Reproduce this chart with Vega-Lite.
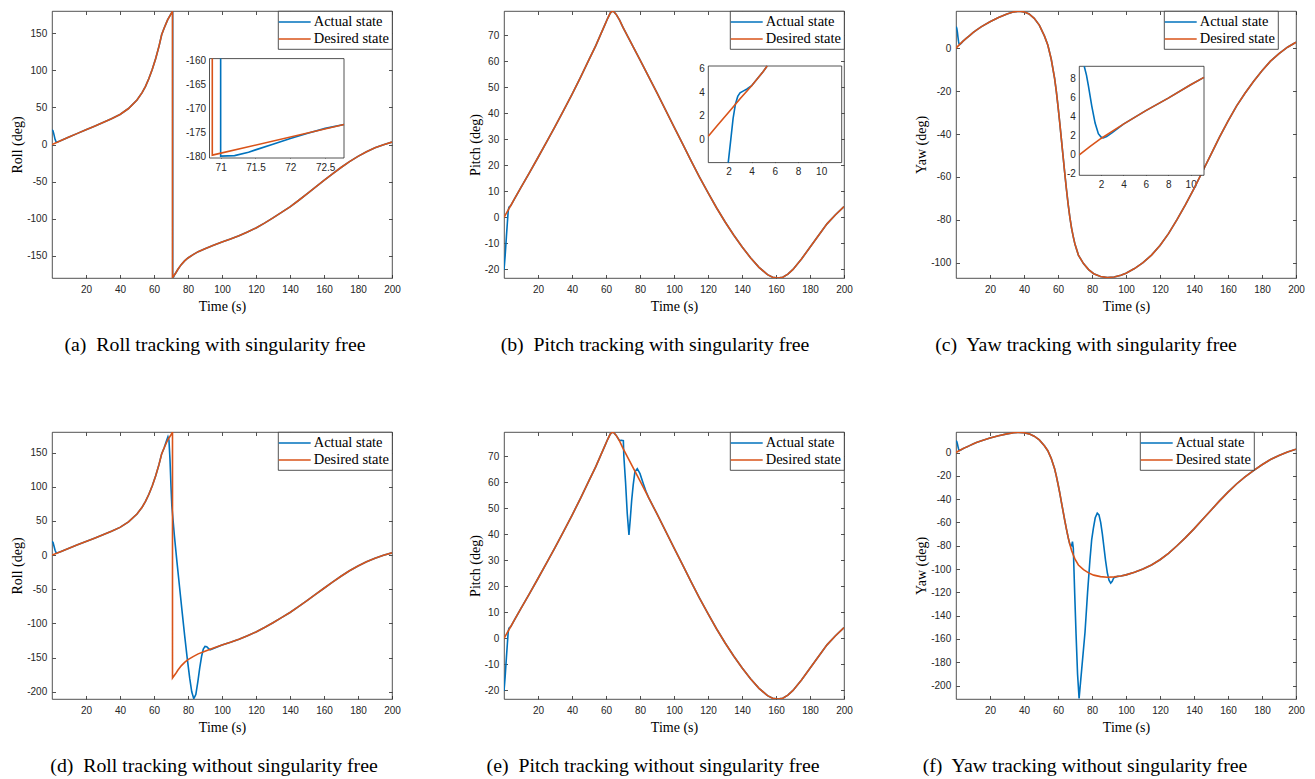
{
  "$schema": "https://vega.github.io/schema/vega-lite/v6.json",
  "background": "white",
  "padding": {"left": 10, "top": 10, "right": 5, "bottom": 2},
  "config": {
    "view": {"stroke": "#262626", "strokeWidth": 0.8},
    "range": {"category": ["#0072BD", "#D95319"]},
    "axis": {"grid": false, "domain": false, "tickColor": "#262626", "tickSize": -3.5, "tickWidth": 0.8, "labelFont": "Liberation Sans", "labelFontSize": 10, "labelColor": "#262626", "labelFlush": false, "labelOverlap": false, "titleFont": "Liberation Serif", "titleFontSize": 14, "titleFontWeight": "normal", "titleColor": "black", "zindex": 1},
    "axisX": {"labelPadding": 9.5, "titlePadding": 5},
    "axisY": {"labelPadding": 8.8, "titlePadding": 2},
    "legend": {"orient": "top-right", "offset": 0, "strokeColor": "#262626", "strokeWidth": 0.8, "fillColor": "white", "padding": 3, "labelFont": "Liberation Serif", "labelFontSize": 14.5, "labelColor": "black", "symbolSize": 196, "symbolStrokeWidth": 1.6, "symbolOffset": 5.7, "labelOffset": 11, "rowPadding": 2},
    "title": {"orient": "bottom", "font": "Liberation Serif", "fontSize": 19.8, "fontWeight": "normal", "color": "black", "offset": 22, "anchor": "middle"}
  },
  "datasets": {
    "main": [
      {"g":"a","s":"Actual state","t":0,"v":20},{"g":"a","s":"Actual state","t":0.6,"v":18.5},{"g":"a","s":"Actual state","t":1.2,"v":13},{"g":"a","s":"Actual state","t":1.8,"v":7},{"g":"a","s":"Actual state","t":2.4,"v":3.6},{"g":"a","s":"Actual state","t":3,"v":3.2},{"g":"a","s":"Actual state","t":5,"v":5},{"g":"a","s":"Actual state","t":10,"v":10},{"g":"a","s":"Actual state","t":15,"v":15},{"g":"a","s":"Actual state","t":20,"v":19.8},{"g":"a","s":"Actual state","t":25,"v":24.6},{"g":"a","s":"Actual state","t":30,"v":29.6},{"g":"a","s":"Actual state","t":35,"v":34.8},{"g":"a","s":"Actual state","t":40,"v":40.5},{"g":"a","s":"Actual state","t":45,"v":48.5},{"g":"a","s":"Actual state","t":50,"v":60},{"g":"a","s":"Actual state","t":53,"v":70},{"g":"a","s":"Actual state","t":55,"v":78.5},{"g":"a","s":"Actual state","t":57,"v":89},{"g":"a","s":"Actual state","t":59,"v":101.5},{"g":"a","s":"Actual state","t":61,"v":116},{"g":"a","s":"Actual state","t":63,"v":133},{"g":"a","s":"Actual state","t":64.5,"v":148},{"g":"a","s":"Actual state","t":66,"v":157},{"g":"a","s":"Actual state","t":68,"v":168},{"g":"a","s":"Actual state","t":70,"v":176},{"g":"a","s":"Actual state","t":71,"v":180},{"g":"a","s":"Actual state","t":71,"v":-179.9},{"g":"a","s":"Actual state","t":71.5,"v":-178.6},{"g":"a","s":"Actual state","t":72,"v":-176.2},{"g":"a","s":"Actual state","t":72.77,"v":-173.3},{"g":"a","s":"Actual state","t":74,"v":-168.5},{"g":"a","s":"Actual state","t":76,"v":-162},{"g":"a","s":"Actual state","t":78,"v":-157},{"g":"a","s":"Actual state","t":80,"v":-153},{"g":"a","s":"Actual state","t":83,"v":-148.5},{"g":"a","s":"Actual state","t":86,"v":-144.5},{"g":"a","s":"Actual state","t":90,"v":-140.5},{"g":"a","s":"Actual state","t":95,"v":-136},{"g":"a","s":"Actual state","t":100,"v":-131.5},{"g":"a","s":"Actual state","t":105,"v":-127.5},{"g":"a","s":"Actual state","t":110,"v":-123},{"g":"a","s":"Actual state","t":115,"v":-118},{"g":"a","s":"Actual state","t":120,"v":-112.5},{"g":"a","s":"Actual state","t":125,"v":-106},{"g":"a","s":"Actual state","t":130,"v":-99},{"g":"a","s":"Actual state","t":135,"v":-91.5},{"g":"a","s":"Actual state","t":140,"v":-84},{"g":"a","s":"Actual state","t":145,"v":-75.5},{"g":"a","s":"Actual state","t":150,"v":-66.5},{"g":"a","s":"Actual state","t":155,"v":-57.5},{"g":"a","s":"Actual state","t":160,"v":-48.5},{"g":"a","s":"Actual state","t":165,"v":-39.5},{"g":"a","s":"Actual state","t":170,"v":-31},{"g":"a","s":"Actual state","t":175,"v":-23},{"g":"a","s":"Actual state","t":180,"v":-16},{"g":"a","s":"Actual state","t":185,"v":-9.8},{"g":"a","s":"Actual state","t":190,"v":-4.5},{"g":"a","s":"Actual state","t":195,"v":-0.3},{"g":"a","s":"Actual state","t":200,"v":3.3},

      {"g":"d","s":"Actual state","t":0,"v":20},{"g":"d","s":"Actual state","t":0.6,"v":18.5},{"g":"d","s":"Actual state","t":1.2,"v":13},{"g":"d","s":"Actual state","t":1.8,"v":7},{"g":"d","s":"Actual state","t":2.4,"v":3.6},{"g":"d","s":"Actual state","t":3,"v":3.2},{"g":"d","s":"Actual state","t":5,"v":5},{"g":"d","s":"Actual state","t":10,"v":10},{"g":"d","s":"Actual state","t":15,"v":15},{"g":"d","s":"Actual state","t":20,"v":19.8},{"g":"d","s":"Actual state","t":25,"v":24.6},{"g":"d","s":"Actual state","t":30,"v":29.6},{"g":"d","s":"Actual state","t":35,"v":34.8},{"g":"d","s":"Actual state","t":40,"v":40.5},{"g":"d","s":"Actual state","t":45,"v":48.5},{"g":"d","s":"Actual state","t":50,"v":60},{"g":"d","s":"Actual state","t":53,"v":70},{"g":"d","s":"Actual state","t":55,"v":78.5},{"g":"d","s":"Actual state","t":57,"v":89},{"g":"d","s":"Actual state","t":59,"v":101.5},{"g":"d","s":"Actual state","t":61,"v":116},{"g":"d","s":"Actual state","t":63,"v":133},{"g":"d","s":"Actual state","t":64.5,"v":148},{"g":"d","s":"Actual state","t":66,"v":157},{"g":"d","s":"Actual state","t":67.3,"v":167},{"g":"d","s":"Actual state","t":68.2,"v":173},{"g":"d","s":"Actual state","t":68.8,"v":168},{"g":"d","s":"Actual state","t":69.4,"v":140},{"g":"d","s":"Actual state","t":70,"v":100},{"g":"d","s":"Actual state","t":70.5,"v":72},{"g":"d","s":"Actual state","t":72,"v":28},{"g":"d","s":"Actual state","t":73.5,"v":-10},{"g":"d","s":"Actual state","t":75,"v":-46},{"g":"d","s":"Actual state","t":76.5,"v":-82},{"g":"d","s":"Actual state","t":78,"v":-117},{"g":"d","s":"Actual state","t":79.5,"v":-150},{"g":"d","s":"Actual state","t":81,"v":-180},{"g":"d","s":"Actual state","t":82.2,"v":-200},{"g":"d","s":"Actual state","t":83.4,"v":-210},{"g":"d","s":"Actual state","t":84.6,"v":-204},{"g":"d","s":"Actual state","t":85.8,"v":-185},{"g":"d","s":"Actual state","t":86.9,"v":-165},{"g":"d","s":"Actual state","t":88,"v":-148},{"g":"d","s":"Actual state","t":89,"v":-137.5},{"g":"d","s":"Actual state","t":90,"v":-133.5},{"g":"d","s":"Actual state","t":91,"v":-134},{"g":"d","s":"Actual state","t":92,"v":-136.5},{"g":"d","s":"Actual state","t":93,"v":-138.5},{"g":"d","s":"Actual state","t":95,"v":-136.5},{"g":"d","s":"Actual state","t":100,"v":-131.5},{"g":"d","s":"Actual state","t":105,"v":-127.5},{"g":"d","s":"Actual state","t":110,"v":-123},{"g":"d","s":"Actual state","t":115,"v":-118},{"g":"d","s":"Actual state","t":120,"v":-112.5},{"g":"d","s":"Actual state","t":125,"v":-106},{"g":"d","s":"Actual state","t":130,"v":-99},{"g":"d","s":"Actual state","t":135,"v":-91.5},{"g":"d","s":"Actual state","t":140,"v":-84},{"g":"d","s":"Actual state","t":145,"v":-75.5},{"g":"d","s":"Actual state","t":150,"v":-66.5},{"g":"d","s":"Actual state","t":155,"v":-57.5},{"g":"d","s":"Actual state","t":160,"v":-48.5},{"g":"d","s":"Actual state","t":165,"v":-39.5},{"g":"d","s":"Actual state","t":170,"v":-31},{"g":"d","s":"Actual state","t":175,"v":-23},{"g":"d","s":"Actual state","t":180,"v":-16},{"g":"d","s":"Actual state","t":185,"v":-9.8},{"g":"d","s":"Actual state","t":190,"v":-4.5},{"g":"d","s":"Actual state","t":195,"v":-0.3},{"g":"d","s":"Actual state","t":200,"v":3.3},

      {"g":"R","s":"Desired state","t":0,"v":0},{"g":"R","s":"Desired state","t":5,"v":5},{"g":"R","s":"Desired state","t":10,"v":10},{"g":"R","s":"Desired state","t":15,"v":15},{"g":"R","s":"Desired state","t":20,"v":19.8},{"g":"R","s":"Desired state","t":25,"v":24.6},{"g":"R","s":"Desired state","t":30,"v":29.6},{"g":"R","s":"Desired state","t":35,"v":34.8},{"g":"R","s":"Desired state","t":40,"v":40.5},{"g":"R","s":"Desired state","t":45,"v":48.5},{"g":"R","s":"Desired state","t":50,"v":60},{"g":"R","s":"Desired state","t":53,"v":70},{"g":"R","s":"Desired state","t":55,"v":78.5},{"g":"R","s":"Desired state","t":57,"v":89},{"g":"R","s":"Desired state","t":59,"v":101.5},{"g":"R","s":"Desired state","t":61,"v":116},{"g":"R","s":"Desired state","t":63,"v":133},{"g":"R","s":"Desired state","t":64.5,"v":148},{"g":"R","s":"Desired state","t":66,"v":157},{"g":"R","s":"Desired state","t":68,"v":168},{"g":"R","s":"Desired state","t":70,"v":176},{"g":"R","s":"Desired state","t":70.88,"v":179.7},{"g":"R","s":"Desired state","t":70.88,"v":-179.7},{"g":"R","s":"Desired state","t":72.77,"v":-173.3},{"g":"R","s":"Desired state","t":74,"v":-168.5},{"g":"R","s":"Desired state","t":76,"v":-162},{"g":"R","s":"Desired state","t":78,"v":-157},{"g":"R","s":"Desired state","t":80,"v":-153},{"g":"R","s":"Desired state","t":83,"v":-148.5},{"g":"R","s":"Desired state","t":86,"v":-144.5},{"g":"R","s":"Desired state","t":90,"v":-140.5},{"g":"R","s":"Desired state","t":95,"v":-136},{"g":"R","s":"Desired state","t":100,"v":-131.5},{"g":"R","s":"Desired state","t":105,"v":-127.5},{"g":"R","s":"Desired state","t":110,"v":-123},{"g":"R","s":"Desired state","t":115,"v":-118},{"g":"R","s":"Desired state","t":120,"v":-112.5},{"g":"R","s":"Desired state","t":125,"v":-106},{"g":"R","s":"Desired state","t":130,"v":-99},{"g":"R","s":"Desired state","t":135,"v":-91.5},{"g":"R","s":"Desired state","t":140,"v":-84},{"g":"R","s":"Desired state","t":145,"v":-75.5},{"g":"R","s":"Desired state","t":150,"v":-66.5},{"g":"R","s":"Desired state","t":155,"v":-57.5},{"g":"R","s":"Desired state","t":160,"v":-48.5},{"g":"R","s":"Desired state","t":165,"v":-39.5},{"g":"R","s":"Desired state","t":170,"v":-31},{"g":"R","s":"Desired state","t":175,"v":-23},{"g":"R","s":"Desired state","t":180,"v":-16},{"g":"R","s":"Desired state","t":185,"v":-9.8},{"g":"R","s":"Desired state","t":190,"v":-4.5},{"g":"R","s":"Desired state","t":195,"v":-0.3},{"g":"R","s":"Desired state","t":200,"v":3.3},

      {"g":"b","s":"Actual state","t":0,"v":-20.2},{"g":"b","s":"Actual state","t":0.7,"v":-14.5},{"g":"b","s":"Actual state","t":1.4,"v":-7.5},{"g":"b","s":"Actual state","t":2,"v":-1.9},{"g":"b","s":"Actual state","t":2.2,"v":0},{"g":"b","s":"Actual state","t":2.4,"v":1.8},{"g":"b","s":"Actual state","t":2.6,"v":3},{"g":"b","s":"Actual state","t":2.8,"v":3.65},{"g":"b","s":"Actual state","t":3,"v":3.95},{"g":"b","s":"Actual state","t":3.6,"v":4.28},{"g":"b","s":"Actual state","t":4,"v":4.55},{"g":"b","s":"Actual state","t":6,"v":6.9},{"g":"b","s":"Actual state","t":10,"v":11.5},{"g":"b","s":"Actual state","t":15,"v":17.2},{"g":"b","s":"Actual state","t":20,"v":23},{"g":"b","s":"Actual state","t":25,"v":28.9},{"g":"b","s":"Actual state","t":30,"v":34.9},{"g":"b","s":"Actual state","t":35,"v":41},{"g":"b","s":"Actual state","t":40,"v":47.3},{"g":"b","s":"Actual state","t":45,"v":53.8},{"g":"b","s":"Actual state","t":50,"v":60.6},{"g":"b","s":"Actual state","t":54,"v":66},{"g":"b","s":"Actual state","t":57,"v":70.5},{"g":"b","s":"Actual state","t":59,"v":73.5},{"g":"b","s":"Actual state","t":61,"v":76.5},{"g":"b","s":"Actual state","t":62.5,"v":78.5},{"g":"b","s":"Actual state","t":63.5,"v":79.2},{"g":"b","s":"Actual state","t":64.5,"v":79.1},{"g":"b","s":"Actual state","t":66,"v":78},{"g":"b","s":"Actual state","t":68,"v":75.8},{"g":"b","s":"Actual state","t":70,"v":73},{"g":"b","s":"Actual state","t":73,"v":69.3},{"g":"b","s":"Actual state","t":76,"v":65.5},{"g":"b","s":"Actual state","t":80,"v":60.5},{"g":"b","s":"Actual state","t":85,"v":54.2},{"g":"b","s":"Actual state","t":90,"v":47.8},{"g":"b","s":"Actual state","t":95,"v":41.3},{"g":"b","s":"Actual state","t":100,"v":34.8},{"g":"b","s":"Actual state","t":105,"v":28.3},{"g":"b","s":"Actual state","t":110,"v":21.8},{"g":"b","s":"Actual state","t":115,"v":15.5},{"g":"b","s":"Actual state","t":120,"v":9.5},{"g":"b","s":"Actual state","t":125,"v":3.7},{"g":"b","s":"Actual state","t":130,"v":-1.7},{"g":"b","s":"Actual state","t":135,"v":-6.7},{"g":"b","s":"Actual state","t":140,"v":-11.3},{"g":"b","s":"Actual state","t":145,"v":-15.5},{"g":"b","s":"Actual state","t":150,"v":-19.2},{"g":"b","s":"Actual state","t":155,"v":-22},{"g":"b","s":"Actual state","t":158,"v":-23},{"g":"b","s":"Actual state","t":161,"v":-23.3},{"g":"b","s":"Actual state","t":164,"v":-23},{"g":"b","s":"Actual state","t":167,"v":-21.8},{"g":"b","s":"Actual state","t":170,"v":-20},{"g":"b","s":"Actual state","t":175,"v":-16},{"g":"b","s":"Actual state","t":180,"v":-11.5},{"g":"b","s":"Actual state","t":185,"v":-7},{"g":"b","s":"Actual state","t":190,"v":-2.5},{"g":"b","s":"Actual state","t":195,"v":1},{"g":"b","s":"Actual state","t":200,"v":4.1},

      {"g":"e","s":"Actual state","t":0,"v":-20.2},{"g":"e","s":"Actual state","t":0.7,"v":-14.5},{"g":"e","s":"Actual state","t":1.4,"v":-7.5},{"g":"e","s":"Actual state","t":2,"v":-1.9},{"g":"e","s":"Actual state","t":2.2,"v":0},{"g":"e","s":"Actual state","t":2.4,"v":1.8},{"g":"e","s":"Actual state","t":2.6,"v":3},{"g":"e","s":"Actual state","t":2.8,"v":3.65},{"g":"e","s":"Actual state","t":3,"v":3.95},{"g":"e","s":"Actual state","t":3.6,"v":4.28},{"g":"e","s":"Actual state","t":4,"v":4.55},{"g":"e","s":"Actual state","t":6,"v":6.9},{"g":"e","s":"Actual state","t":10,"v":11.5},{"g":"e","s":"Actual state","t":15,"v":17.2},{"g":"e","s":"Actual state","t":20,"v":23},{"g":"e","s":"Actual state","t":25,"v":28.9},{"g":"e","s":"Actual state","t":30,"v":34.9},{"g":"e","s":"Actual state","t":35,"v":41},{"g":"e","s":"Actual state","t":40,"v":47.3},{"g":"e","s":"Actual state","t":45,"v":53.8},{"g":"e","s":"Actual state","t":50,"v":60.6},{"g":"e","s":"Actual state","t":54,"v":66},{"g":"e","s":"Actual state","t":57,"v":70.5},{"g":"e","s":"Actual state","t":59,"v":73.5},{"g":"e","s":"Actual state","t":61,"v":76.5},{"g":"e","s":"Actual state","t":62.5,"v":78.5},{"g":"e","s":"Actual state","t":63.5,"v":79.2},{"g":"e","s":"Actual state","t":64.5,"v":79.1},{"g":"e","s":"Actual state","t":66,"v":78},{"g":"e","s":"Actual state","t":68,"v":76},{"g":"e","s":"Actual state","t":69,"v":76.1},{"g":"e","s":"Actual state","t":70.2,"v":76},{"g":"e","s":"Actual state","t":70.5,"v":70},{"g":"e","s":"Actual state","t":71.5,"v":60},{"g":"e","s":"Actual state","t":72.5,"v":48},{"g":"e","s":"Actual state","t":73.5,"v":39.7},{"g":"e","s":"Actual state","t":74.3,"v":46},{"g":"e","s":"Actual state","t":75.1,"v":53},{"g":"e","s":"Actual state","t":76,"v":59},{"g":"e","s":"Actual state","t":77,"v":64},{"g":"e","s":"Actual state","t":78.4,"v":65.2},{"g":"e","s":"Actual state","t":80,"v":63.3},{"g":"e","s":"Actual state","t":81.9,"v":59.5},{"g":"e","s":"Actual state","t":83.5,"v":56.5},{"g":"e","s":"Actual state","t":85,"v":54.2},{"g":"e","s":"Actual state","t":90,"v":47.8},{"g":"e","s":"Actual state","t":95,"v":41.3},{"g":"e","s":"Actual state","t":100,"v":34.8},{"g":"e","s":"Actual state","t":105,"v":28.3},{"g":"e","s":"Actual state","t":110,"v":21.8},{"g":"e","s":"Actual state","t":115,"v":15.5},{"g":"e","s":"Actual state","t":120,"v":9.5},{"g":"e","s":"Actual state","t":125,"v":3.7},{"g":"e","s":"Actual state","t":130,"v":-1.7},{"g":"e","s":"Actual state","t":135,"v":-6.7},{"g":"e","s":"Actual state","t":140,"v":-11.3},{"g":"e","s":"Actual state","t":145,"v":-15.5},{"g":"e","s":"Actual state","t":150,"v":-19.2},{"g":"e","s":"Actual state","t":155,"v":-22},{"g":"e","s":"Actual state","t":158,"v":-23},{"g":"e","s":"Actual state","t":161,"v":-23.3},{"g":"e","s":"Actual state","t":164,"v":-23},{"g":"e","s":"Actual state","t":167,"v":-21.8},{"g":"e","s":"Actual state","t":170,"v":-20},{"g":"e","s":"Actual state","t":175,"v":-16},{"g":"e","s":"Actual state","t":180,"v":-11.5},{"g":"e","s":"Actual state","t":185,"v":-7},{"g":"e","s":"Actual state","t":190,"v":-2.5},{"g":"e","s":"Actual state","t":195,"v":1},{"g":"e","s":"Actual state","t":200,"v":4.1},

      {"g":"P","s":"Desired state","t":0,"v":0},{"g":"P","s":"Desired state","t":2,"v":2.3},{"g":"P","s":"Desired state","t":4,"v":4.55},{"g":"P","s":"Desired state","t":6,"v":6.9},{"g":"P","s":"Desired state","t":10,"v":11.5},{"g":"P","s":"Desired state","t":15,"v":17.2},{"g":"P","s":"Desired state","t":20,"v":23},{"g":"P","s":"Desired state","t":25,"v":28.9},{"g":"P","s":"Desired state","t":30,"v":34.9},{"g":"P","s":"Desired state","t":35,"v":41},{"g":"P","s":"Desired state","t":40,"v":47.3},{"g":"P","s":"Desired state","t":45,"v":53.8},{"g":"P","s":"Desired state","t":50,"v":60.6},{"g":"P","s":"Desired state","t":54,"v":66},{"g":"P","s":"Desired state","t":57,"v":70.5},{"g":"P","s":"Desired state","t":59,"v":73.5},{"g":"P","s":"Desired state","t":61,"v":76.5},{"g":"P","s":"Desired state","t":62.5,"v":78.5},{"g":"P","s":"Desired state","t":63.5,"v":79.2},{"g":"P","s":"Desired state","t":64.5,"v":79.1},{"g":"P","s":"Desired state","t":66,"v":78},{"g":"P","s":"Desired state","t":68,"v":75.8},{"g":"P","s":"Desired state","t":70,"v":73},{"g":"P","s":"Desired state","t":73,"v":69.3},{"g":"P","s":"Desired state","t":76,"v":65.5},{"g":"P","s":"Desired state","t":80,"v":60.5},{"g":"P","s":"Desired state","t":85,"v":54.2},{"g":"P","s":"Desired state","t":90,"v":47.8},{"g":"P","s":"Desired state","t":95,"v":41.3},{"g":"P","s":"Desired state","t":100,"v":34.8},{"g":"P","s":"Desired state","t":105,"v":28.3},{"g":"P","s":"Desired state","t":110,"v":21.8},{"g":"P","s":"Desired state","t":115,"v":15.5},{"g":"P","s":"Desired state","t":120,"v":9.5},{"g":"P","s":"Desired state","t":125,"v":3.7},{"g":"P","s":"Desired state","t":130,"v":-1.7},{"g":"P","s":"Desired state","t":135,"v":-6.7},{"g":"P","s":"Desired state","t":140,"v":-11.3},{"g":"P","s":"Desired state","t":145,"v":-15.5},{"g":"P","s":"Desired state","t":150,"v":-19.2},{"g":"P","s":"Desired state","t":155,"v":-22},{"g":"P","s":"Desired state","t":158,"v":-23},{"g":"P","s":"Desired state","t":161,"v":-23.3},{"g":"P","s":"Desired state","t":164,"v":-23},{"g":"P","s":"Desired state","t":167,"v":-21.8},{"g":"P","s":"Desired state","t":170,"v":-20},{"g":"P","s":"Desired state","t":175,"v":-16},{"g":"P","s":"Desired state","t":180,"v":-11.5},{"g":"P","s":"Desired state","t":185,"v":-7},{"g":"P","s":"Desired state","t":190,"v":-2.5},{"g":"P","s":"Desired state","t":195,"v":1},{"g":"P","s":"Desired state","t":200,"v":4.1},

      {"g":"c","s":"Actual state","t":0,"v":10},{"g":"c","s":"Actual state","t":0.25,"v":9.8},{"g":"c","s":"Actual state","t":0.5,"v":9.2},{"g":"c","s":"Actual state","t":0.87,"v":7.2},{"g":"c","s":"Actual state","t":1.17,"v":5.1},{"g":"c","s":"Actual state","t":1.47,"v":3.3},{"g":"c","s":"Actual state","t":1.76,"v":2.2},{"g":"c","s":"Actual state","t":2.2,"v":1.75},{"g":"c","s":"Actual state","t":3,"v":2.3},{"g":"c","s":"Actual state","t":4,"v":3.2},{"g":"c","s":"Actual state","t":6,"v":4.6},{"g":"c","s":"Actual state","t":8,"v":5.9},{"g":"c","s":"Actual state","t":10,"v":7.3},{"g":"c","s":"Actual state","t":12,"v":8.5},{"g":"c","s":"Actual state","t":15,"v":10.1},{"g":"c","s":"Actual state","t":20,"v":12.4},{"g":"c","s":"Actual state","t":25,"v":14.4},{"g":"c","s":"Actual state","t":30,"v":16},{"g":"c","s":"Actual state","t":34,"v":17},{"g":"c","s":"Actual state","t":37,"v":17.3},{"g":"c","s":"Actual state","t":40,"v":17},{"g":"c","s":"Actual state","t":43,"v":16},{"g":"c","s":"Actual state","t":46,"v":14},{"g":"c","s":"Actual state","t":49,"v":10.8},{"g":"c","s":"Actual state","t":52,"v":5.8},{"g":"c","s":"Actual state","t":54,"v":1.5},{"g":"c","s":"Actual state","t":56,"v":-5},{"g":"c","s":"Actual state","t":58,"v":-14},{"g":"c","s":"Actual state","t":59,"v":-20},{"g":"c","s":"Actual state","t":60,"v":-27},{"g":"c","s":"Actual state","t":61,"v":-34.5},{"g":"c","s":"Actual state","t":62,"v":-42.5},{"g":"c","s":"Actual state","t":63,"v":-50.5},{"g":"c","s":"Actual state","t":64,"v":-58.5},{"g":"c","s":"Actual state","t":65,"v":-66},{"g":"c","s":"Actual state","t":66,"v":-73},{"g":"c","s":"Actual state","t":67,"v":-79},{"g":"c","s":"Actual state","t":68,"v":-84},{"g":"c","s":"Actual state","t":69,"v":-88},{"g":"c","s":"Actual state","t":70,"v":-91.5},{"g":"c","s":"Actual state","t":72,"v":-96.5},{"g":"c","s":"Actual state","t":75,"v":-100.5},{"g":"c","s":"Actual state","t":78,"v":-103.3},{"g":"c","s":"Actual state","t":81,"v":-105.2},{"g":"c","s":"Actual state","t":85,"v":-106.5},{"g":"c","s":"Actual state","t":89,"v":-107},{"g":"c","s":"Actual state","t":93,"v":-106.7},{"g":"c","s":"Actual state","t":97,"v":-105.9},{"g":"c","s":"Actual state","t":100,"v":-105},{"g":"c","s":"Actual state","t":105,"v":-102.8},{"g":"c","s":"Actual state","t":110,"v":-100},{"g":"c","s":"Actual state","t":115,"v":-96.5},{"g":"c","s":"Actual state","t":120,"v":-92},{"g":"c","s":"Actual state","t":125,"v":-86.5},{"g":"c","s":"Actual state","t":130,"v":-80},{"g":"c","s":"Actual state","t":135,"v":-73},{"g":"c","s":"Actual state","t":140,"v":-65.5},{"g":"c","s":"Actual state","t":145,"v":-57.5},{"g":"c","s":"Actual state","t":150,"v":-49.5},{"g":"c","s":"Actual state","t":155,"v":-41.5},{"g":"c","s":"Actual state","t":160,"v":-34},{"g":"c","s":"Actual state","t":165,"v":-27},{"g":"c","s":"Actual state","t":170,"v":-21},{"g":"c","s":"Actual state","t":175,"v":-15.5},{"g":"c","s":"Actual state","t":180,"v":-10.5},{"g":"c","s":"Actual state","t":185,"v":-6},{"g":"c","s":"Actual state","t":190,"v":-2.5},{"g":"c","s":"Actual state","t":195,"v":0.5},{"g":"c","s":"Actual state","t":200,"v":2.8},

      {"g":"f","s":"Actual state","t":0,"v":10},{"g":"f","s":"Actual state","t":0.25,"v":9.8},{"g":"f","s":"Actual state","t":0.5,"v":9.2},{"g":"f","s":"Actual state","t":0.87,"v":7.2},{"g":"f","s":"Actual state","t":1.17,"v":5.1},{"g":"f","s":"Actual state","t":1.47,"v":3.3},{"g":"f","s":"Actual state","t":1.76,"v":2.2},{"g":"f","s":"Actual state","t":2.2,"v":1.75},{"g":"f","s":"Actual state","t":3,"v":2.3},{"g":"f","s":"Actual state","t":4,"v":3.2},{"g":"f","s":"Actual state","t":6,"v":4.6},{"g":"f","s":"Actual state","t":8,"v":5.9},{"g":"f","s":"Actual state","t":10,"v":7.3},{"g":"f","s":"Actual state","t":12,"v":8.5},{"g":"f","s":"Actual state","t":15,"v":10.1},{"g":"f","s":"Actual state","t":20,"v":12.4},{"g":"f","s":"Actual state","t":25,"v":14.4},{"g":"f","s":"Actual state","t":30,"v":16},{"g":"f","s":"Actual state","t":34,"v":17},{"g":"f","s":"Actual state","t":37,"v":17.3},{"g":"f","s":"Actual state","t":40,"v":17},{"g":"f","s":"Actual state","t":43,"v":16},{"g":"f","s":"Actual state","t":46,"v":14},{"g":"f","s":"Actual state","t":49,"v":10.8},{"g":"f","s":"Actual state","t":52,"v":5.8},{"g":"f","s":"Actual state","t":54,"v":1.5},{"g":"f","s":"Actual state","t":56,"v":-5},{"g":"f","s":"Actual state","t":58,"v":-14},{"g":"f","s":"Actual state","t":59,"v":-20},{"g":"f","s":"Actual state","t":60,"v":-27},{"g":"f","s":"Actual state","t":61,"v":-34.5},{"g":"f","s":"Actual state","t":62,"v":-42.5},{"g":"f","s":"Actual state","t":63,"v":-50.5},{"g":"f","s":"Actual state","t":64,"v":-58.5},{"g":"f","s":"Actual state","t":65,"v":-66},{"g":"f","s":"Actual state","t":66,"v":-73},{"g":"f","s":"Actual state","t":67,"v":-79},{"g":"f","s":"Actual state","t":68,"v":-80},{"g":"f","s":"Actual state","t":68.5,"v":-76.5},{"g":"f","s":"Actual state","t":69,"v":-82},{"g":"f","s":"Actual state","t":69.8,"v":-120},{"g":"f","s":"Actual state","t":70.6,"v":-155},{"g":"f","s":"Actual state","t":71.5,"v":-190},{"g":"f","s":"Actual state","t":72.4,"v":-211},{"g":"f","s":"Actual state","t":74,"v":-185},{"g":"f","s":"Actual state","t":75.9,"v":-154},{"g":"f","s":"Actual state","t":77.4,"v":-120},{"g":"f","s":"Actual state","t":78.8,"v":-92},{"g":"f","s":"Actual state","t":79.8,"v":-75},{"g":"f","s":"Actual state","t":80.8,"v":-65},{"g":"f","s":"Actual state","t":81.9,"v":-56},{"g":"f","s":"Actual state","t":83.1,"v":-52},{"g":"f","s":"Actual state","t":84.1,"v":-53.5},{"g":"f","s":"Actual state","t":85.1,"v":-60},{"g":"f","s":"Actual state","t":86.1,"v":-70},{"g":"f","s":"Actual state","t":87,"v":-81},{"g":"f","s":"Actual state","t":88,"v":-93},{"g":"f","s":"Actual state","t":89,"v":-103},{"g":"f","s":"Actual state","t":90,"v":-109.5},{"g":"f","s":"Actual state","t":91,"v":-112},{"g":"f","s":"Actual state","t":91.9,"v":-110.5},{"g":"f","s":"Actual state","t":92.8,"v":-107.5},{"g":"f","s":"Actual state","t":95,"v":-106.3},{"g":"f","s":"Actual state","t":97,"v":-105.9},{"g":"f","s":"Actual state","t":100,"v":-105},{"g":"f","s":"Actual state","t":105,"v":-102.8},{"g":"f","s":"Actual state","t":110,"v":-100},{"g":"f","s":"Actual state","t":115,"v":-96.5},{"g":"f","s":"Actual state","t":120,"v":-92},{"g":"f","s":"Actual state","t":125,"v":-86.5},{"g":"f","s":"Actual state","t":130,"v":-80},{"g":"f","s":"Actual state","t":135,"v":-73},{"g":"f","s":"Actual state","t":140,"v":-65.5},{"g":"f","s":"Actual state","t":145,"v":-57.5},{"g":"f","s":"Actual state","t":150,"v":-49.5},{"g":"f","s":"Actual state","t":155,"v":-41.5},{"g":"f","s":"Actual state","t":160,"v":-34},{"g":"f","s":"Actual state","t":165,"v":-27},{"g":"f","s":"Actual state","t":170,"v":-21},{"g":"f","s":"Actual state","t":175,"v":-15.5},{"g":"f","s":"Actual state","t":180,"v":-10.5},{"g":"f","s":"Actual state","t":185,"v":-6},{"g":"f","s":"Actual state","t":190,"v":-2.5},{"g":"f","s":"Actual state","t":195,"v":0.5},{"g":"f","s":"Actual state","t":200,"v":2.8},

      {"g":"Y","s":"Desired state","t":0,"v":0},{"g":"Y","s":"Desired state","t":2,"v":1.7},{"g":"Y","s":"Desired state","t":4,"v":3.2},{"g":"Y","s":"Desired state","t":6,"v":4.6},{"g":"Y","s":"Desired state","t":8,"v":5.9},{"g":"Y","s":"Desired state","t":10,"v":7.3},{"g":"Y","s":"Desired state","t":12,"v":8.5},{"g":"Y","s":"Desired state","t":15,"v":10.1},{"g":"Y","s":"Desired state","t":20,"v":12.4},{"g":"Y","s":"Desired state","t":25,"v":14.4},{"g":"Y","s":"Desired state","t":30,"v":16},{"g":"Y","s":"Desired state","t":34,"v":17},{"g":"Y","s":"Desired state","t":37,"v":17.3},{"g":"Y","s":"Desired state","t":40,"v":17},{"g":"Y","s":"Desired state","t":43,"v":16},{"g":"Y","s":"Desired state","t":46,"v":14},{"g":"Y","s":"Desired state","t":49,"v":10.8},{"g":"Y","s":"Desired state","t":52,"v":5.8},{"g":"Y","s":"Desired state","t":54,"v":1.5},{"g":"Y","s":"Desired state","t":56,"v":-5},{"g":"Y","s":"Desired state","t":58,"v":-14},{"g":"Y","s":"Desired state","t":59,"v":-20},{"g":"Y","s":"Desired state","t":60,"v":-27},{"g":"Y","s":"Desired state","t":61,"v":-34.5},{"g":"Y","s":"Desired state","t":62,"v":-42.5},{"g":"Y","s":"Desired state","t":63,"v":-50.5},{"g":"Y","s":"Desired state","t":64,"v":-58.5},{"g":"Y","s":"Desired state","t":65,"v":-66},{"g":"Y","s":"Desired state","t":66,"v":-73},{"g":"Y","s":"Desired state","t":67,"v":-79},{"g":"Y","s":"Desired state","t":68,"v":-84},{"g":"Y","s":"Desired state","t":69,"v":-88},{"g":"Y","s":"Desired state","t":70,"v":-91.5},{"g":"Y","s":"Desired state","t":72,"v":-96.5},{"g":"Y","s":"Desired state","t":75,"v":-100.5},{"g":"Y","s":"Desired state","t":78,"v":-103.3},{"g":"Y","s":"Desired state","t":81,"v":-105.2},{"g":"Y","s":"Desired state","t":85,"v":-106.5},{"g":"Y","s":"Desired state","t":89,"v":-107},{"g":"Y","s":"Desired state","t":93,"v":-106.7},{"g":"Y","s":"Desired state","t":97,"v":-105.9},{"g":"Y","s":"Desired state","t":100,"v":-105},{"g":"Y","s":"Desired state","t":105,"v":-102.8},{"g":"Y","s":"Desired state","t":110,"v":-100},{"g":"Y","s":"Desired state","t":115,"v":-96.5},{"g":"Y","s":"Desired state","t":120,"v":-92},{"g":"Y","s":"Desired state","t":125,"v":-86.5},{"g":"Y","s":"Desired state","t":130,"v":-80},{"g":"Y","s":"Desired state","t":135,"v":-73},{"g":"Y","s":"Desired state","t":140,"v":-65.5},{"g":"Y","s":"Desired state","t":145,"v":-57.5},{"g":"Y","s":"Desired state","t":150,"v":-49.5},{"g":"Y","s":"Desired state","t":155,"v":-41.5},{"g":"Y","s":"Desired state","t":160,"v":-34},{"g":"Y","s":"Desired state","t":165,"v":-27},{"g":"Y","s":"Desired state","t":170,"v":-21},{"g":"Y","s":"Desired state","t":175,"v":-15.5},{"g":"Y","s":"Desired state","t":180,"v":-10.5},{"g":"Y","s":"Desired state","t":185,"v":-6},{"g":"Y","s":"Desired state","t":190,"v":-2.5},{"g":"Y","s":"Desired state","t":195,"v":0.5},{"g":"Y","s":"Desired state","t":200,"v":2.8}
    ],
    "inset": [
      {"g":"a","s":"Actual state","t":71,"v":-159.5},{"g":"a","s":"Actual state","t":71,"v":-179.9},{"g":"a","s":"Actual state","t":71.2,"v":-179.8},{"g":"a","s":"Actual state","t":71.4,"v":-179.1},{"g":"a","s":"Actual state","t":71.5,"v":-178.6},{"g":"a","s":"Actual state","t":71.75,"v":-177.4},{"g":"a","s":"Actual state","t":72,"v":-176.2},{"g":"a","s":"Actual state","t":72.25,"v":-175.1},{"g":"a","s":"Actual state","t":72.5,"v":-174.1},{"g":"a","s":"Actual state","t":72.77,"v":-173.3},
      {"g":"a","s":"Desired state","t":70.88,"v":-159.5},{"g":"a","s":"Desired state","t":70.88,"v":-179.7},{"g":"a","s":"Desired state","t":72.77,"v":-173.3},
      {"g":"b","s":"Actual state","t":1.98,"v":-1.94},{"g":"b","s":"Actual state","t":2.2,"v":0},{"g":"b","s":"Actual state","t":2.4,"v":1.8},{"g":"b","s":"Actual state","t":2.6,"v":3},{"g":"b","s":"Actual state","t":2.8,"v":3.65},{"g":"b","s":"Actual state","t":3,"v":3.95},{"g":"b","s":"Actual state","t":3.3,"v":4.12},{"g":"b","s":"Actual state","t":3.6,"v":4.28},{"g":"b","s":"Actual state","t":4,"v":4.55},{"g":"b","s":"Actual state","t":5,"v":5.75},{"g":"b","s":"Actual state","t":5.34,"v":6.22},
      {"g":"b","s":"Desired state","t":0.26,"v":0.28},{"g":"b","s":"Desired state","t":1,"v":1.15},{"g":"b","s":"Desired state","t":2,"v":2.3},{"g":"b","s":"Desired state","t":3,"v":3.45},{"g":"b","s":"Desired state","t":4,"v":4.55},{"g":"b","s":"Desired state","t":5,"v":5.75},{"g":"b","s":"Desired state","t":5.34,"v":6.22},
      {"g":"c","s":"Actual state","t":0.5,"v":9.22},{"g":"c","s":"Actual state","t":0.7,"v":8.3},{"g":"c","s":"Actual state","t":0.87,"v":7.2},{"g":"c","s":"Actual state","t":1.17,"v":5.1},{"g":"c","s":"Actual state","t":1.47,"v":3.3},{"g":"c","s":"Actual state","t":1.76,"v":2.2},{"g":"c","s":"Actual state","t":2,"v":1.85},{"g":"c","s":"Actual state","t":2.2,"v":1.75},{"g":"c","s":"Actual state","t":2.5,"v":1.9},{"g":"c","s":"Actual state","t":3,"v":2.3},{"g":"c","s":"Actual state","t":3.5,"v":2.75},{"g":"c","s":"Actual state","t":4,"v":3.2},{"g":"c","s":"Actual state","t":6,"v":4.6},{"g":"c","s":"Actual state","t":8,"v":5.9},{"g":"c","s":"Actual state","t":10,"v":7.3},{"g":"c","s":"Actual state","t":11.19,"v":8.07},
      {"g":"c","s":"Desired state","t":0.06,"v":0},{"g":"c","s":"Desired state","t":1,"v":0.85},{"g":"c","s":"Desired state","t":2,"v":1.7},{"g":"c","s":"Desired state","t":4,"v":3.2},{"g":"c","s":"Desired state","t":6,"v":4.6},{"g":"c","s":"Desired state","t":8,"v":5.9},{"g":"c","s":"Desired state","t":10,"v":7.3},{"g":"c","s":"Desired state","t":11.19,"v":8.07}
    ],
    "box": [
      {"g":"a","x0":70.84,"x1":72.77,"y0":-180.3,"y1":-159.5},
      {"g":"b","x0":0.26,"x1":11.77,"y0":-1.94,"y1":6.22},
      {"g":"c","x0":0.06,"x1":11.19,"y0":-2.14,"y1":9.22}
    ]
  },
  "columns": 3,
  "spacing": {"row": 154, "column": 112},
  "bounds": "flush",
  "resolve": {"scale": {"color": "independent"}, "legend": {"color": "independent"}},
  "concat": [
    {
      "width": 340, "height": 267,
      "title": {"text": "(a)\u00a0 Roll tracking with singularity free", "dx": -7},
      "layer": [
        {"data": {"name": "main"}, "transform": [{"filter": "datum.g=='R'||datum.g=='a'"}],
         "mark": {"type": "line", "strokeWidth": 1.6, "clip": true},
         "encoding": {
           "x": {"field": "t", "type": "quantitative", "scale": {"domain": [0, 200], "nice": false, "zero": false}, "axis": {"values": [20,40,60,80,100,120,140,160,180,200], "title": "Time (s)", "labelExpr": "''+datum.value"}},
           "y": {"field": "v", "type": "quantitative", "scale": {"domain": [-180, 180], "nice": false, "zero": false}, "axis": {"values": [-150,-100,-50,0,50,100,150], "title": "Roll (deg)", "labelExpr": "''+datum.value"}},
           "color": {"field": "s", "type": "nominal", "legend": {"title": null, "symbolType": "M-2.286,0H2.286"}},
           "order": {"value": null}
         }},
        {"data": {"name": "box"}, "mark": {"type": "point", "opacity": 0, "clip": true},
         "encoding": {
           "x": {"field": "x0", "type": "quantitative", "scale": {"domain": [0, 200], "nice": false, "zero": false}, "axis": {"orient": "top", "values": [20,40,60,80,100,120,140,160,180,200], "labels": false, "title": null}},
           "y": {"field": "y0", "type": "quantitative", "scale": {"domain": [-180, 180], "nice": false, "zero": false}, "axis": {"orient": "right", "values": [-150,-100,-50,0,50,100,150], "labels": false, "title": null}}
         }},
        {"layer": [
          {"data": {"name": "box"}, "transform": [{"filter": "datum.g=='a'"}],
           "mark": {"type": "rect", "fill": "white", "stroke": "#262626", "strokeWidth": 0.8},
           "encoding": {
             "x": {"field": "x0", "type": "quantitative", "scale": {"domain": [70.84, 72.77], "range": [157.5, 292], "nice": false, "zero": false}, "axis": {"orient": "bottom", "offset": -120, "values": [71,71.5,72,72.5], "title": null, "tickSize": -3, "labelPadding": 7, "labelExpr": "''+datum.value"}},
             "x2": {"field": "x1"},
             "y": {"field": "y0", "type": "quantitative", "scale": {"domain": [-180.3, -159.5], "range": [147, 47.6], "nice": false, "zero": false}, "axis": {"orient": "left", "offset": -157.5, "values": [-180,-175,-170,-165,-160], "title": null, "tickSize": -3, "labelPadding": 7, "labelExpr": "''+datum.value"}},
             "y2": {"field": "y1"}
           }},
          {"data": {"name": "inset"}, "transform": [{"filter": "datum.g=='a'"}],
           "mark": {"type": "line", "strokeWidth": 1.6},
           "encoding": {
             "x": {"field": "t", "type": "quantitative", "scale": {"domain": [70.84, 72.77], "range": [157.5, 292], "nice": false, "zero": false}, "axis": {"orient": "bottom", "offset": -120, "values": [71,71.5,72,72.5], "title": null, "tickSize": -3, "labelPadding": 7, "labelExpr": "''+datum.value"}},
             "y": {"field": "v", "type": "quantitative", "scale": {"domain": [-180.3, -159.5], "range": [147, 47.6], "nice": false, "zero": false}, "axis": {"orient": "left", "offset": -157.5, "values": [-180,-175,-170,-165,-160], "title": null, "tickSize": -3, "labelPadding": 7, "labelExpr": "''+datum.value"}},
             "color": {"field": "s", "type": "nominal"},
             "order": {"value": null}
           }}
        ]}
      ],
      "resolve": {"scale": {"x": "independent", "y": "independent"}}
    },
    {
      "width": 340, "height": 267,
      "title": {"text": "(b)\u00a0 Pitch tracking with singularity free", "dx": -19},
      "layer": [
        {"data": {"name": "main"}, "transform": [{"filter": "datum.g=='P'||datum.g=='b'"}],
         "mark": {"type": "line", "strokeWidth": 1.6, "clip": true},
         "encoding": {
           "x": {"field": "t", "type": "quantitative", "scale": {"domain": [0, 200], "nice": false, "zero": false}, "axis": {"values": [20,40,60,80,100,120,140,160,180,200], "title": "Time (s)", "labelExpr": "''+datum.value"}},
           "y": {"field": "v", "type": "quantitative", "scale": {"domain": [-23.3, 79.3], "nice": false, "zero": false}, "axis": {"values": [-20,-10,0,10,20,30,40,50,60,70], "title": "Pitch (deg)", "labelExpr": "''+datum.value"}},
           "color": {"field": "s", "type": "nominal", "legend": {"title": null, "symbolType": "M-2.286,0H2.286"}},
           "order": {"value": null}
         }},
        {"data": {"name": "box"}, "mark": {"type": "point", "opacity": 0, "clip": true},
         "encoding": {
           "x": {"field": "x0", "type": "quantitative", "scale": {"domain": [0, 200], "nice": false, "zero": false}, "axis": {"orient": "top", "values": [20,40,60,80,100,120,140,160,180,200], "labels": false, "title": null}},
           "y": {"field": "y0", "type": "quantitative", "scale": {"domain": [-23.3, 79.3], "nice": false, "zero": false}, "axis": {"orient": "right", "values": [-20,-10,0,10,20,30,40,50,60,70], "labels": false, "title": null}}
         }},
        {"layer": [
          {"data": {"name": "box"}, "transform": [{"filter": "datum.g=='b'"}],
           "mark": {"type": "rect", "fill": "white", "stroke": "#262626", "strokeWidth": 0.8},
           "encoding": {
             "x": {"field": "x0", "type": "quantitative", "scale": {"domain": [0.26, 11.77], "range": [204.3, 337.7], "nice": false, "zero": false}, "axis": {"orient": "bottom", "offset": -115.4, "values": [2,4,6,8,10], "title": null, "tickSize": -3, "labelPadding": 7, "labelExpr": "''+datum.value"}},
             "x2": {"field": "x1"},
             "y": {"field": "y0", "type": "quantitative", "scale": {"domain": [-1.94, 6.22], "range": [151.6, 55], "nice": false, "zero": false}, "axis": {"orient": "left", "offset": -204.3, "values": [0,2,4,6], "title": null, "tickSize": -3, "labelPadding": 7, "labelExpr": "''+datum.value"}},
             "y2": {"field": "y1"}
           }},
          {"data": {"name": "inset"}, "transform": [{"filter": "datum.g=='b'"}],
           "mark": {"type": "line", "strokeWidth": 1.6},
           "encoding": {
             "x": {"field": "t", "type": "quantitative", "scale": {"domain": [0.26, 11.77], "range": [204.3, 337.7], "nice": false, "zero": false}, "axis": {"orient": "bottom", "offset": -115.4, "values": [2,4,6,8,10], "title": null, "tickSize": -3, "labelPadding": 7, "labelExpr": "''+datum.value"}},
             "y": {"field": "v", "type": "quantitative", "scale": {"domain": [-1.94, 6.22], "range": [151.6, 55], "nice": false, "zero": false}, "axis": {"orient": "left", "offset": -204.3, "values": [0,2,4,6], "title": null, "tickSize": -3, "labelPadding": 7, "labelExpr": "''+datum.value"}},
             "color": {"field": "s", "type": "nominal"},
             "order": {"value": null}
           }}
        ]}
      ],
      "resolve": {"scale": {"x": "independent", "y": "independent"}}
    },
    {
      "width": 340, "height": 267,
      "title": {"text": "(c)\u00a0 Yaw tracking with singularity free", "dx": -40},
      "layer": [
        {"data": {"name": "main"}, "transform": [{"filter": "datum.g=='Y'||datum.g=='c'"}],
         "mark": {"type": "line", "strokeWidth": 1.6, "clip": true},
         "encoding": {
           "x": {"field": "t", "type": "quantitative", "scale": {"domain": [0, 200], "nice": false, "zero": false}, "axis": {"values": [20,40,60,80,100,120,140,160,180,200], "title": "Time (s)", "labelExpr": "''+datum.value"}},
           "y": {"field": "v", "type": "quantitative", "scale": {"domain": [-107.2, 17.4], "nice": false, "zero": false}, "axis": {"values": [-100,-80,-60,-40,-20,0], "title": "Yaw (deg)", "labelExpr": "''+datum.value"}},
           "color": {"field": "s", "type": "nominal", "legend": {"title": null, "symbolType": "M-2.286,0H2.286", "orient": "none", "legendX": 208, "legendY": 0}},
           "order": {"value": null}
         }},
        {"data": {"name": "box"}, "mark": {"type": "point", "opacity": 0, "clip": true},
         "encoding": {
           "x": {"field": "x0", "type": "quantitative", "scale": {"domain": [0, 200], "nice": false, "zero": false}, "axis": {"orient": "top", "values": [20,40,60,80,100,120,140,160,180,200], "labels": false, "title": null}},
           "y": {"field": "y0", "type": "quantitative", "scale": {"domain": [-107.2, 17.4], "nice": false, "zero": false}, "axis": {"orient": "right", "values": [-100,-80,-60,-40,-20,0], "labels": false, "title": null}}
         }},
        {"layer": [
          {"data": {"name": "box"}, "transform": [{"filter": "datum.g=='c'"}],
           "mark": {"type": "rect", "fill": "white", "stroke": "#262626", "strokeWidth": 0.8},
           "encoding": {
             "x": {"field": "x0", "type": "quantitative", "scale": {"domain": [0.06, 11.19], "range": [123.3, 248], "nice": false, "zero": false}, "axis": {"orient": "bottom", "offset": -102.7, "values": [2,4,6,8,10], "title": null, "tickSize": -3, "labelPadding": 7, "labelExpr": "''+datum.value"}},
             "x2": {"field": "x1"},
             "y": {"field": "y0", "type": "quantitative", "scale": {"domain": [-2.14, 9.22], "range": [164.3, 55.3], "nice": false, "zero": false}, "axis": {"orient": "left", "offset": -123.3, "values": [-2,0,2,4,6,8], "title": null, "tickSize": -3, "labelPadding": 7, "labelExpr": "''+datum.value"}},
             "y2": {"field": "y1"}
           }},
          {"data": {"name": "inset"}, "transform": [{"filter": "datum.g=='c'"}],
           "mark": {"type": "line", "strokeWidth": 1.6},
           "encoding": {
             "x": {"field": "t", "type": "quantitative", "scale": {"domain": [0.06, 11.19], "range": [123.3, 248], "nice": false, "zero": false}, "axis": {"orient": "bottom", "offset": -102.7, "values": [2,4,6,8,10], "title": null, "tickSize": -3, "labelPadding": 7, "labelExpr": "''+datum.value"}},
             "y": {"field": "v", "type": "quantitative", "scale": {"domain": [-2.14, 9.22], "range": [164.3, 55.3], "nice": false, "zero": false}, "axis": {"orient": "left", "offset": -123.3, "values": [-2,0,2,4,6,8], "title": null, "tickSize": -3, "labelPadding": 7, "labelExpr": "''+datum.value"}},
             "color": {"field": "s", "type": "nominal"},
             "order": {"value": null}
           }}
        ]}
      ],
      "resolve": {"scale": {"x": "independent", "y": "independent"}}
    },
    {
      "width": 340, "height": 267,
      "title": {"text": "(d)\u00a0 Roll tracking without singularity free", "dx": -8},
      "layer": [
        {"data": {"name": "main"}, "transform": [{"filter": "datum.g=='R'||datum.g=='d'"}],
         "mark": {"type": "line", "strokeWidth": 1.6, "clip": true},
         "encoding": {
           "x": {"field": "t", "type": "quantitative", "scale": {"domain": [0, 200], "nice": false, "zero": false}, "axis": {"values": [20,40,60,80,100,120,140,160,180,200], "title": "Time (s)", "labelExpr": "''+datum.value"}},
           "y": {"field": "v", "type": "quantitative", "scale": {"domain": [-210.5, 180], "nice": false, "zero": false}, "axis": {"values": [-200,-150,-100,-50,0,50,100,150], "title": "Roll (deg)", "labelExpr": "''+datum.value"}},
           "color": {"field": "s", "type": "nominal", "legend": {"title": null, "symbolType": "M-2.286,0H2.286"}},
           "order": {"value": null}
         }},
        {"data": {"name": "box"}, "mark": {"type": "point", "opacity": 0, "clip": true},
         "encoding": {
           "x": {"field": "x0", "type": "quantitative", "scale": {"domain": [0, 200], "nice": false, "zero": false}, "axis": {"orient": "top", "values": [20,40,60,80,100,120,140,160,180,200], "labels": false, "title": null}},
           "y": {"field": "y0", "type": "quantitative", "scale": {"domain": [-210.5, 180], "nice": false, "zero": false}, "axis": {"orient": "right", "values": [-200,-150,-100,-50,0,50,100,150], "labels": false, "title": null}}
         }}
      ],
      "resolve": {"scale": {"x": "independent", "y": "independent"}}
    },
    {
      "width": 340, "height": 267,
      "title": {"text": "(e)\u00a0 Pitch tracking without singularity free", "dx": -21},
      "layer": [
        {"data": {"name": "main"}, "transform": [{"filter": "datum.g=='P'||datum.g=='e'"}],
         "mark": {"type": "line", "strokeWidth": 1.6, "clip": true},
         "encoding": {
           "x": {"field": "t", "type": "quantitative", "scale": {"domain": [0, 200], "nice": false, "zero": false}, "axis": {"values": [20,40,60,80,100,120,140,160,180,200], "title": "Time (s)", "labelExpr": "''+datum.value"}},
           "y": {"field": "v", "type": "quantitative", "scale": {"domain": [-23.3, 79.3], "nice": false, "zero": false}, "axis": {"values": [-20,-10,0,10,20,30,40,50,60,70], "title": "Pitch (deg)", "labelExpr": "''+datum.value"}},
           "color": {"field": "s", "type": "nominal", "legend": {"title": null, "symbolType": "M-2.286,0H2.286"}},
           "order": {"value": null}
         }},
        {"data": {"name": "box"}, "mark": {"type": "point", "opacity": 0, "clip": true},
         "encoding": {
           "x": {"field": "x0", "type": "quantitative", "scale": {"domain": [0, 200], "nice": false, "zero": false}, "axis": {"orient": "top", "values": [20,40,60,80,100,120,140,160,180,200], "labels": false, "title": null}},
           "y": {"field": "y0", "type": "quantitative", "scale": {"domain": [-23.3, 79.3], "nice": false, "zero": false}, "axis": {"orient": "right", "values": [-20,-10,0,10,20,30,40,50,60,70], "labels": false, "title": null}}
         }}
      ],
      "resolve": {"scale": {"x": "independent", "y": "independent"}}
    },
    {
      "width": 340, "height": 267,
      "title": {"text": "(f)\u00a0 Yaw tracking without singularity free", "dx": -41},
      "layer": [
        {"data": {"name": "main"}, "transform": [{"filter": "datum.g=='Y'||datum.g=='f'"}],
         "mark": {"type": "line", "strokeWidth": 1.6, "clip": true},
         "encoding": {
           "x": {"field": "t", "type": "quantitative", "scale": {"domain": [0, 200], "nice": false, "zero": false}, "axis": {"values": [20,40,60,80,100,120,140,160,180,200], "title": "Time (s)", "labelExpr": "''+datum.value"}},
           "y": {"field": "v", "type": "quantitative", "scale": {"domain": [-211.5, 17.6], "nice": false, "zero": false}, "axis": {"values": [-200,-180,-160,-140,-120,-100,-80,-60,-40,-20,0], "title": "Yaw (deg)", "labelExpr": "''+datum.value"}},
           "color": {"field": "s", "type": "nominal", "legend": {"title": null, "symbolType": "M-2.286,0H2.286", "orient": "none", "legendX": 184, "legendY": 0}},
           "order": {"value": null}
         }},
        {"data": {"name": "box"}, "mark": {"type": "point", "opacity": 0, "clip": true},
         "encoding": {
           "x": {"field": "x0", "type": "quantitative", "scale": {"domain": [0, 200], "nice": false, "zero": false}, "axis": {"orient": "top", "values": [20,40,60,80,100,120,140,160,180,200], "labels": false, "title": null}},
           "y": {"field": "y0", "type": "quantitative", "scale": {"domain": [-211.5, 17.6], "nice": false, "zero": false}, "axis": {"orient": "right", "values": [-200,-180,-160,-140,-120,-100,-80,-60,-40,-20,0], "labels": false, "title": null}}
         }}
      ],
      "resolve": {"scale": {"x": "independent", "y": "independent"}}
    }
  ]
}
